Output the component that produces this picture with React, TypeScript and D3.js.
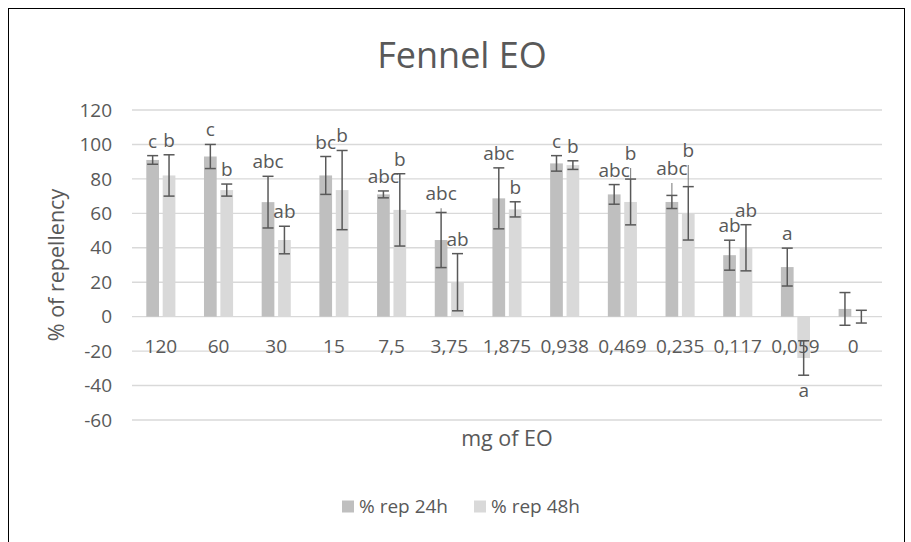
import React from "react";
import * as d3 from "d3";

// doses (mg of EO) as written on the axis
const doses = ["120", "60", "30", "15", "7,5", "3,75", "1,875", "0,938", "0,469", "0,235", "0,117", "0,059", "0"];

// % repellency after 24h / 48h, with the +/- error shown by the capped bars
const rep24 = [91, 93, 66.5, 82, 71, 44.5, 68.7, 89, 71, 66.6, 35.7, 28.8, 4.5];
const err24 = [2.5, 7, 15, 11, 2, 16, 17.7, 4.5, 5.7, 3.8, 8.7, 11, 9.5];
const rep48 = [82, 73.5, 44.5, 73.5, 62, 20, 62.3, 88, 66.6, 60, 40, -24, 0];
const err48 = [12, 3.5, 8, 23, 21, 16.6, 4.4, 2.5, 13.3, 15.5, 13.4, 10, 3.7];

// some bars have a second, uncapped whisker going higher
const whisker24 = [null, null, null, null, null, 63, null, null, null, 77.6, null, null, null];
const whisker48 = [null, null, null, null, null, null, null, null, 86.3, 88, null, null, null];

// significance letters
const letters24 = ["c", "c", "abc", "bc", "abc", "abc", "abc", "c", "abc", "abc", "ab", "a", ""];
const letters48 = ["b", "b", "ab", "b", "b", "ab", "b", "b", "b", "b", "ab", "a", ""];

const yTicks = [-60, -40, -20, 0, 20, 40, 60, 80, 100, 120];

const W = 911;
const H = 542;
const FONT = "'Open Sans', 'Noto Sans', sans-serif";
const TEXT = "#595959";
const C24 = "#bfbfbf";
const C48 = "#d9d9d9";
const ERR = "#595959";

const x = d3.scaleBand<string>().domain(doses).range([132, 882]);
const y = d3.scaleLinear().domain([-60, 120]).range([420, 110]);

const barW = 12.7;
const innerGap = 3.7;

type Series = {
  key: string;
  vals: number[];
  errs: number[];
  whisk: (number | null)[];
  letters: string[];
  color: string;
  dx: number;
};

const series: Series[] = [
  { key: "24h", vals: rep24, errs: err24, whisk: whisker24, letters: letters24, color: C24, dx: -innerGap / 2 - barW },
  { key: "48h", vals: rep48, errs: err48, whisk: whisker48, letters: letters48, color: C48, dx: innerGap / 2 },
];

export default function App() {
  const y0 = y(0);
  return (
    <svg
      width={W}
      height={H}
      style={{ position: "absolute", left: 0, top: 0, background: "#fff" }}
      fontFamily={FONT}
    >
      <rect x={8.5} y={8.5} width={896} height={H} fill="#fff" stroke="#000" strokeWidth={1} />

      <text x={462} y={68} textAnchor="middle" fontSize={36} fill={TEXT}>
        Fennel EO
      </text>

      {/* gridlines */}
      {yTicks.map((t) => (
        <line key={t} x1={132} x2={882} y1={y(t)} y2={y(t)} stroke="#d9d9d9" strokeWidth={1.4} />
      ))}
      {yTicks.map((t) => (
        <text key={"l" + t} x={112} y={y(t)} dy="0.35em" textAnchor="end" fontSize={19} fill={TEXT}>
          {t}
        </text>
      ))}

      {/* bars */}
      {series.map((s) =>
        s.vals.map((v, i) => {
          const bx = (x(doses[i]) as number) + x.bandwidth() / 2 + s.dx;
          return (
            <rect
              key={s.key + i}
              x={bx}
              width={barW}
              y={Math.min(y(v), y0)}
              height={Math.abs(y(v) - y0)}
              fill={s.color}
            />
          );
        })
      )}

      {/* x labels */}
      {doses.map((d) => (
        <text key={d} x={(x(d) as number) + x.bandwidth() / 2} y={353} textAnchor="middle" fontSize={19} fill={TEXT}>
          {d}
        </text>
      ))}

      {/* error bars and letters */}
      {series.map((s) =>
        s.vals.map((v, i) => {
          const cx = (x(doses[i]) as number) + x.bandwidth() / 2 + s.dx + barW / 2;
          const hi = v + s.errs[i];
          const lo = v - s.errs[i];
          const w = s.whisk[i];
          const top = w != null ? Math.max(w, hi) : hi;
          const neg = v < 0;
          return (
            <g key={"e" + s.key + i}>
              {w != null && (
                <line x1={cx} x2={cx} y1={y(w)} y2={y(hi)} stroke="#8c8c8c" strokeWidth={1.2} />
              )}
              <line x1={cx} x2={cx} y1={y(hi)} y2={y(lo)} stroke={ERR} strokeWidth={1.5} />
              <line x1={cx - 5.5} x2={cx + 5.5} y1={y(hi)} y2={y(hi)} stroke={ERR} strokeWidth={1.5} />
              <line x1={cx - 5.5} x2={cx + 5.5} y1={y(lo)} y2={y(lo)} stroke={ERR} strokeWidth={1.5} />
              {s.letters[i] && (
                <text
                  x={cx}
                  y={neg ? y(lo) + 22 : y(top) - 8}
                  textAnchor="middle"
                  fontSize={19}
                  fill={TEXT}
                >
                  {s.letters[i]}
                </text>
              )}
            </g>
          );
        })
      )}

      <text x={507} y={446} textAnchor="middle" fontSize={21.5} fill={TEXT}>
        mg of EO
      </text>
      <text
        transform={`translate(56, ${(y(120) + y(-60)) / 2}) rotate(-90)`}
        textAnchor="middle"
        dy="0.35em"
        fontSize={21.5}
        fill={TEXT}
      >
        % of repellency
      </text>

      {/* legend */}
      <rect x={342} y={500.5} width={12} height={12} fill={C24} />
      <text x={359} y={513} fontSize={19} fill={TEXT}>
        % rep 24h
      </text>
      <rect x={474} y={500.5} width={12} height={12} fill={C48} />
      <text x={491} y={513} fontSize={19} fill={TEXT}>
        % rep 48h
      </text>
    </svg>
  );
}
